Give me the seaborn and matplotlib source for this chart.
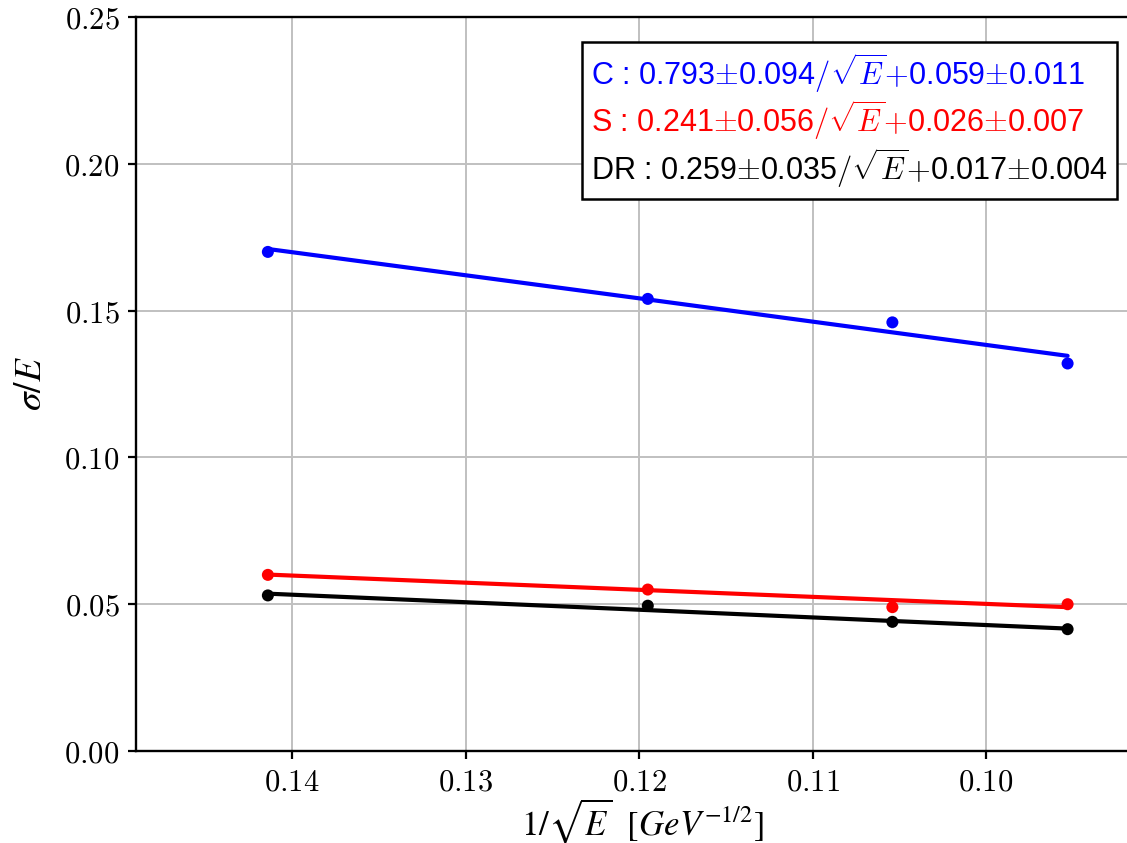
import numpy as np
import pandas as pd
import seaborn as sns
import matplotlib.pyplot as plt
from matplotlib.ticker import FuncFormatter

# 1/sqrt(E) for E = 50, 70, 90, 110 GeV
inv_sqrt_e = [0.1414, 0.1195, 0.1054, 0.0953]

c_points = [0.170, 0.154, 0.146, 0.132]
s_points = [0.060, 0.055, 0.049, 0.050]
dr_points = [0.053, 0.0495, 0.044, 0.0415]

# fitted lines read at the same x positions
c_fit = [0.171, 0.1538, 0.1426, 0.1346]
s_fit = [0.0601, 0.0548, 0.0514, 0.0490]
dr_fit = [0.0536, 0.0480, 0.0443, 0.0417]

labels = {
    'C': r'C : 0.793$\pm$0.094$/\sqrt{E}$$+$0.059$\pm$0.011',
    'S': r'S : 0.241$\pm$0.056$/\sqrt{E}$$+$0.026$\pm$0.007',
    'DR': r'DR : 0.259$\pm$0.035$/\sqrt{E}$$+$0.017$\pm$0.004',
}
colors = {'C': 'blue', 'S': 'red', 'DR': 'black'}

pts = pd.DataFrame({
    'x': inv_sqrt_e * 3,
    'y': c_points + s_points + dr_points,
    'ch': ['C'] * 4 + ['S'] * 4 + ['DR'] * 4,
})
fits = pd.DataFrame({
    'x': inv_sqrt_e * 3,
    'y': c_fit + s_fit + dr_fit,
    'ch': ['C'] * 4 + ['S'] * 4 + ['DR'] * 4,
})

sns.set_theme(style='ticks')
plt.rcParams['font.family'] = ['Liberation Sans', 'DejaVu Sans']
plt.rcParams['mathtext.fontset'] = 'cm'
plt.rcParams['text.color'] = 'black'
plt.rcParams['xtick.color'] = 'black'
plt.rcParams['ytick.color'] = 'black'
plt.rcParams['axes.labelcolor'] = 'black'

fig = plt.figure(figsize=(11.27, 8.43), dpi=100)
ax = fig.add_axes([0.1207, 0.1091, 0.882, 0.8707])

sns.lineplot(data=fits, x='x', y='y', hue='ch', palette=colors, linewidth=3.0,
             sort=False, legend=False, ax=ax, zorder=3)
sns.scatterplot(data=pts, x='x', y='y', hue='ch', palette=colors, s=75,
                edgecolor='none', legend=False, ax=ax, zorder=4)

ax.set_xlim(0.149, 0.0917)
ax.set_ylim(0.0, 0.25)
ax.set_xticks([0.14, 0.13, 0.12, 0.11, 0.10])
ax.set_yticks([0.0, 0.05, 0.10, 0.15, 0.20, 0.25])
fmt = FuncFormatter(lambda v, p: f'${v:.2f}$')
ax.xaxis.set_major_formatter(fmt)
ax.yaxis.set_major_formatter(fmt)
ax.tick_params(labelsize=22, length=6, width=1.6, direction='out', pad=6)
ax.grid(True, color='#c0c0c0', linewidth=1.4)
for sp in ax.spines.values():
    sp.set_linewidth(1.7)
    sp.set_color('black')

ax.set_xlabel(r'$1/\sqrt{E}\ \ [GeV^{-1/2}]$', fontsize=25, math_fontfamily='stix')
ax.xaxis.set_label_coords(0.51, -0.063)
ax.set_ylabel(r'$\sigma/E$', fontsize=27, math_fontfamily='stix')
ax.yaxis.set_label_coords(-0.088, 0.5)

handles = [plt.Line2D([], [], color=colors[k]) for k in ['C', 'S', 'DR']]
leg = ax.legend(handles, [labels[k] for k in ['C', 'S', 'DR']], loc='upper right',
                fontsize=22, handlelength=0, handletextpad=0, labelcolor='linecolor',
                frameon=True, fancybox=False, framealpha=1, edgecolor='black',
                borderpad=0.3, labelspacing=0.12, borderaxespad=0,
                bbox_to_anchor=(0.987, 0.966))
leg.get_frame().set_linewidth(1.8)
for h in leg.legend_handles:
    h.set_visible(False)

fig.savefig('out.png', dpi=100)
